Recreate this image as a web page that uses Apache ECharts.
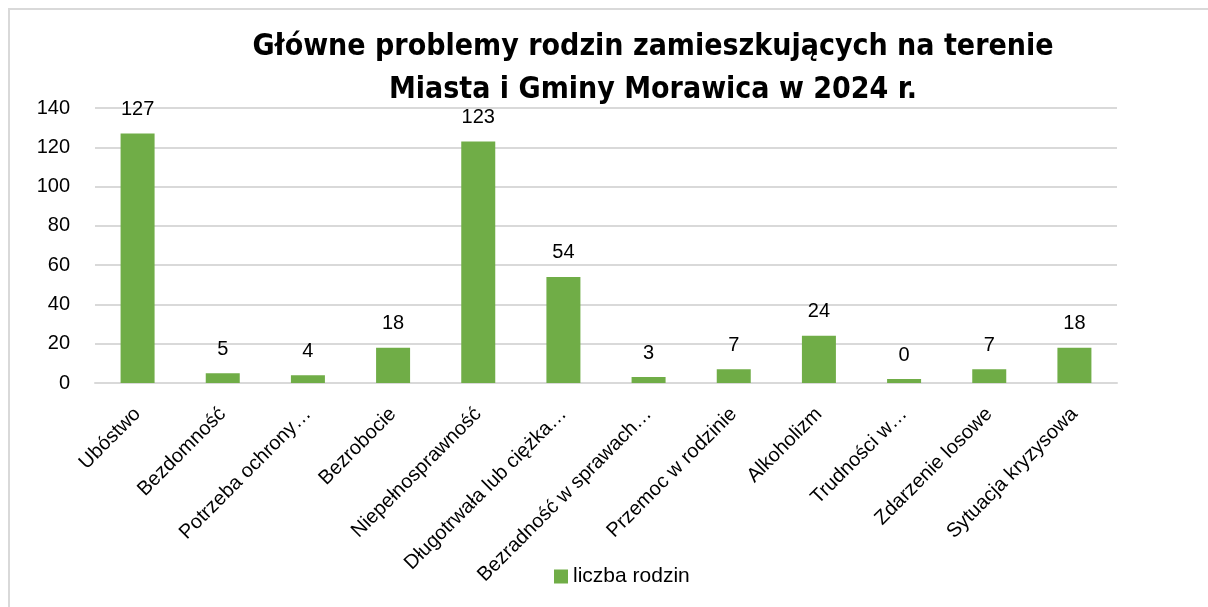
<!DOCTYPE html>
<html>
<head>
<meta charset="utf-8">
<script src="https://cdn.jsdelivr.net/npm/echarts@6/dist/echarts.min.js"></script>
<style>
  html, body { margin: 0; padding: 0; background: #fff; }
  #wrap { position: relative; width: 1208px; height: 607px; }
  #chart { width: 1208px; height: 607px; }
  .frame {
    position: absolute; left: 8px; top: 8px; width: 1210px; height: 610px;
    border-left: 2px solid #d9d9d9; border-top: 2px solid #d9d9d9;
    pointer-events: none;
  }
</style>
</head>
<body>
<div id="wrap">
  <div id="chart"></div>
  <div class="frame"></div>
</div>
<script>
const categories = ['Ubóstwo', 'Bezdomność', 'Potrzeba ochrony…', 'Bezrobocie', 'Niepełnosprawność',
  'Długotrwała lub ciężka…', 'Bezradność w sprawach…', 'Przemoc w rodzinie', 'Alkoholizm',
  'Trudności w…', 'Zdarzenie losowe', 'Sytuacja kryzysowa'];
// bar heights as drawn
const values = [127, 5, 4, 18, 123, 54, 3, 7, 24, 2, 7, 18];
// data labels as printed on the chart
const valueLabels = ['127', '5', '4', '18', '123', '54', '3', '7', '24', '0', '7', '18'];
const yTicks = [0, 20, 40, 60, 80, 100, 120, 140];

const myChart = echarts.init(document.getElementById('chart'));
const option = {
  animation: false,
  title: {
    text: 'Główne problemy rodzin zamieszkujących na terenie\nMiasta i Gminy Morawica w 2024 r.',
    left: 648,
    top: 21,
    textAlign: 'center',
    textStyle: {
      fontFamily: 'DejaVu Sans Condensed',
      fontWeight: 'bold',
      fontSize: 30,
      lineHeight: 43,
      color: '#000'
    }
  },
  legend: {
    top: 561,
    left: 549,
    itemWidth: 14,
    itemHeight: 14,
    icon: 'rect',
    itemGap: 6,
    textStyle: { fontFamily: 'Liberation Sans', fontSize: 21, color: '#000' },
    data: ['liczba rodzin']
  },
  grid: { left: 95, right: 91, top: 108, bottom: 224 },
  xAxis: {
    type: 'category',
    data: categories,
    axisTick: { show: false },
    axisLine: { lineStyle: { color: '#d9d9d9', width: 2 } },
    axisLabel: {
      rotate: 45,
      interval: 0,
      margin: 28,
      fontFamily: 'Liberation Sans',
      fontSize: 20,
      color: '#000'
    }
  },
  yAxis: {
    type: 'value',
    min: yTicks[0],
    max: yTicks[yTicks.length - 1],
    interval: 20,
    axisLine: { show: false },
    axisTick: { show: false },
    splitLine: { lineStyle: { color: '#d9d9d9', width: 2 } },
    axisLabel: {
      margin: 25,
      fontFamily: 'Liberation Sans',
      fontSize: 20,
      color: '#000'
    }
  },
  series: [
    {
      name: 'liczba rodzin',
      type: 'bar',
      data: values,
      barWidth: 34,
      itemStyle: { color: '#70ad47' },
      label: {
        show: true,
        position: 'top',
        distance: 14,
        fontFamily: 'Liberation Sans',
        fontSize: 20,
        color: '#000',
        formatter: p => valueLabels[p.dataIndex]
      }
    }
  ]
};
myChart.setOption(option);
</script>
</body>
</html>
